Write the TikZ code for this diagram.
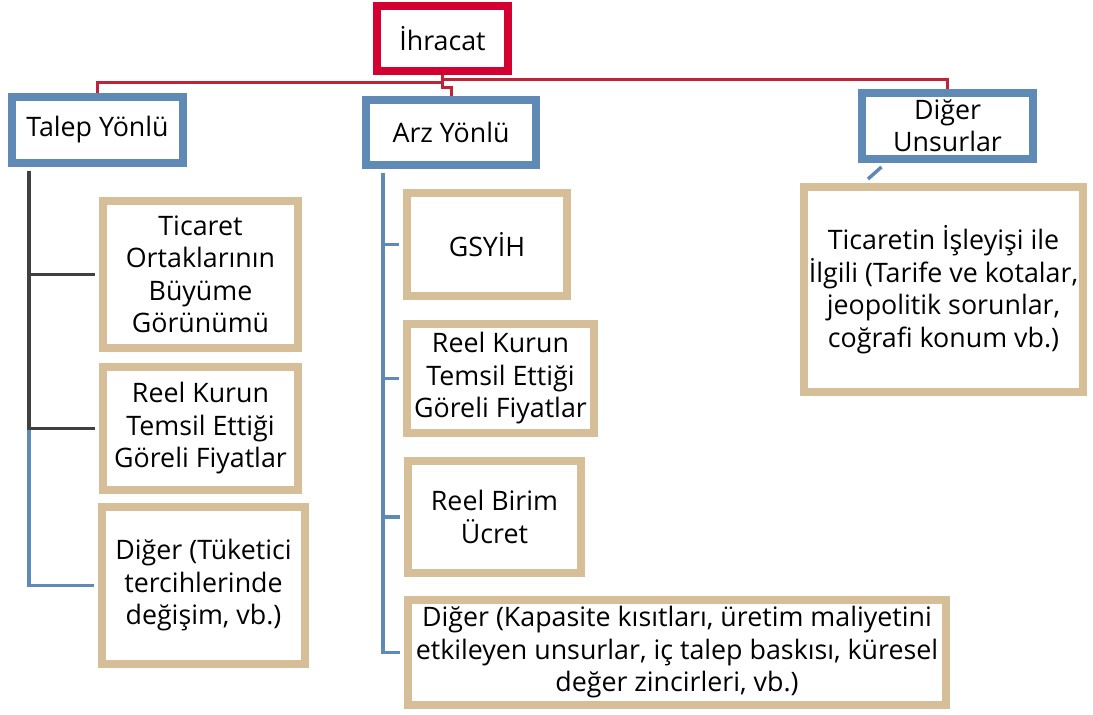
\documentclass[tikz,border=0pt]{standalone}
\usepackage{fontspec}
\setmainfont{Open Sans}
\usetikzlibrary{calc}
\definecolor{redbox}{RGB}{213,0,50}
\definecolor{redline}{RGB}{190,35,55}
\definecolor{bluebox}{RGB}{94,138,181}
\definecolor{tanbox}{RGB}{214,190,152}
\definecolor{grayline}{RGB}{64,64,64}
\tikzset{
  box/.style={draw, line width=8pt, fill=white, inner sep=0pt, align=center,
    font=\fontsize{26.8}{32.5}\selectfont, text=black},
  redb/.style={box, draw=redbox},
  blueb/.style={box, draw=bluebox},
  tanb/.style={box, draw=tanbox},
  redc/.style={draw=redline, line width=3pt},
  bluec/.style={draw=bluebox, line width=3.5pt},
  grayc/.style={draw=grayline, line width=3.5pt},
}
\begin{document}
\begin{tikzpicture}[x=1pt,y=-1pt]
\useasboundingbox (0,0) rectangle (1093,715);
% level 0
\node[redb, minimum width=131pt, minimum height=65pt] (ihr) at (442.5,38.5) {İhracat};
% level 1
\node[blueb, minimum width=171pt, minimum height=66pt] (talep) at (97.5,130) {Talep Yönlü};
\node[blueb, minimum width=170pt, minimum height=65pt] (arz) at (451,132.5) {Arz Yönlü};
\node[blueb, minimum width=171pt, minimum height=66pt] (diger) at (947.5,126) {Diğer\\Unsurlar};
% talep children
\node[tanb, minimum width=195pt, minimum height=147pt] (ticaret) at (200.5,274.5) {Ticaret\\Ortaklarının\\Büyüme\\Görünümü};
\node[tanb, minimum width=195pt, minimum height=123pt] (reelL) at (200.5,428.5) {Reel Kurun\\Temsil Ettiği\\Göreli Fiyatlar};
\node[tanb, minimum width=203pt, minimum height=157pt] (digerL) at (203.5,585.5) {Diğer (Tüketici\\tercihlerinde\\değişim, vb.)};
% arz children
\node[tanb, minimum width=160pt, minimum height=103pt] (gsyih) at (487,244.5) {GSYİH};
\node[tanb, minimum width=187pt, minimum height=109pt] (reelA) at (500.5,378.5) {Reel Kurun\\Temsil Ettiği\\Göreli Fiyatlar};
\node[tanb, minimum width=173pt, minimum height=112pt] (birim) at (494.5,517) {Reel Birim\\Ücret};
\node[tanb, minimum width=538pt, minimum height=105pt] (kapasite) at (677,652.5) {Diğer (Kapasite kısıtları, üretim maliyetini\\etkileyen unsurlar, iç talep baskısı, küresel\\değer zincirleri, vb.)};
% diger child
\node[tanb, minimum width=279pt, minimum height=205pt] (ticisl) at (943.5,289.5) {Ticaretin İşleyişi ile\\İlgili (Tarife ve kotalar,\\jeopolitik sorunlar,\\coğrafi konum vb.)};

% red connectors
\coordinate (j1) at ($(ihr.south)+(0,7)$);
\coordinate (j2) at ($(ihr.south)+(0,4)$);
\coordinate (j3) at ($(ihr.south)+(0,12)$);
\draw[redc] (ihr.south) -- (j1) -| (talep.north);
\draw[redc] (j1) -- (j3) -| (arz.north);
\draw[redc] (j2) -| (diger.north);

% talep connectors
\coordinate (tl) at ($(talep.south west)+(21,4)$);
\coordinate (tm) at (tl |- reelL.west);
\draw[bluec] (tm) |- ($(digerL.west)+(-4,0)$);
\draw[grayc] (tl) |- ($(ticaret.west)+(-4,0)$);
\draw[grayc] (tl) |- ($(reelL.west)+(-4,0)$);

% arz connectors
\coordinate (al) at ($(arz.south west)+(21,4)$);
\draw[bluec] (al) |- ($(gsyih.west)+(-4,0)$);
\draw[bluec] (al) |- ($(reelA.west)+(-4,0)$);
\draw[bluec] (al) |- ($(birim.west)+(-4,0)$);
\draw[bluec] (al) |- ($(kapasite.west)+(-4,0)$);

% diger connector
\draw[bluec] ($(diger.south)+(-66,4)$) -- ($(ticisl.north)+(-75.5,-4)$);
\end{tikzpicture}
\end{document}
